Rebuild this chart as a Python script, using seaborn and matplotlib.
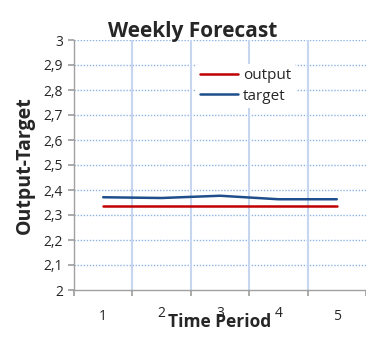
import matplotlib
matplotlib.use("Agg")
import matplotlib.pyplot as plt
import seaborn as sns
import pandas as pd

periods = [1, 2, 3, 4, 5]
output_vals = [2.335, 2.335, 2.335, 2.335, 2.335]
target_vals = [2.371, 2.368, 2.377, 2.363, 2.363]
y_ticks = [2.0, 2.1, 2.2, 2.3, 2.4, 2.5, 2.6, 2.7, 2.8, 2.9, 3.0]

sns.set_theme(style="white")
plt.rcParams['font.family'] = ['Open Sans', 'DejaVu Sans']

df = pd.DataFrame({
    "period": periods * 2,
    "value": output_vals + target_vals,
    "series": ["output"] * 5 + ["target"] * 5,
})

fig = plt.figure(figsize=(3.66, 3.38), dpi=100)
ax = fig.add_axes([74 / 366, 48 / 338, 292 / 366, 250 / 338])

sns.lineplot(data=df, x="period", y="value", hue="series",
             palette={"output": "#C00000", "target": "#1F4E8C"},
             linewidth=1.8, ax=ax, legend=True)

ax.set_xlim(0.5, 5.5)
ax.set_ylim(2.0, 3.0)

# horizontal dotted grid
for y in y_ticks[1:]:
    ax.axhline(y, color="#8EB4E3", linestyle=(0, (1, 1.2)), linewidth=1.0, zorder=0)
# vertical category separators
for xb in [1.5, 2.5, 3.5, 4.5]:
    ax.axvline(xb, color="#C5D6EE", linewidth=1.5, zorder=0)

ax.set_yticks(y_ticks)
ax.set_yticklabels([("%g" % v).replace(".", ",") for v in y_ticks], fontsize=10)
ax.set_xticks([0.5, 1.5, 2.5, 3.5, 4.5, 5.5])
ax.set_xticklabels([])
ax.tick_params(axis="x", direction="out", length=4, color="#A0A0A0", bottom=True)
ax.tick_params(axis="y", direction="out", length=4, color="#A0A0A0", left=True, pad=4)

# category labels below the axis
label_y = [-0.105, -0.095, -0.095, -0.095, -0.105]
for p, ly in zip(periods, label_y):
    ax.text(p, 2.0 + ly, str(p), ha="center", va="center", fontsize=10,
            clip_on=False)

for s in ["top", "right"]:
    ax.spines[s].set_visible(False)
for s in ["left", "bottom"]:
    ax.spines[s].set_color("#A0A0A0")
    ax.spines[s].set_linewidth(1.0)

ax.set_xlabel("Time Period", fontsize=12.5, fontweight="bold", labelpad=9)
ax.set_ylabel("Output-Target", fontsize=14, fontweight="bold", labelpad=6)
ax.set_title("Weekly Forecast", fontsize=15, fontweight="bold", pad=2, x=0.405)

leg = ax.legend(loc="upper left", bbox_to_anchor=(0.39, 0.935), frameon=True,
                fontsize=11, handlelength=2.5, handletextpad=0.3,
                labelspacing=0.35, borderpad=0.3)
leg.get_frame().set_edgecolor("none")
leg.get_frame().set_facecolor("white")
leg.get_frame().set_alpha(1.0)

fig.savefig("out.png", dpi=100)
